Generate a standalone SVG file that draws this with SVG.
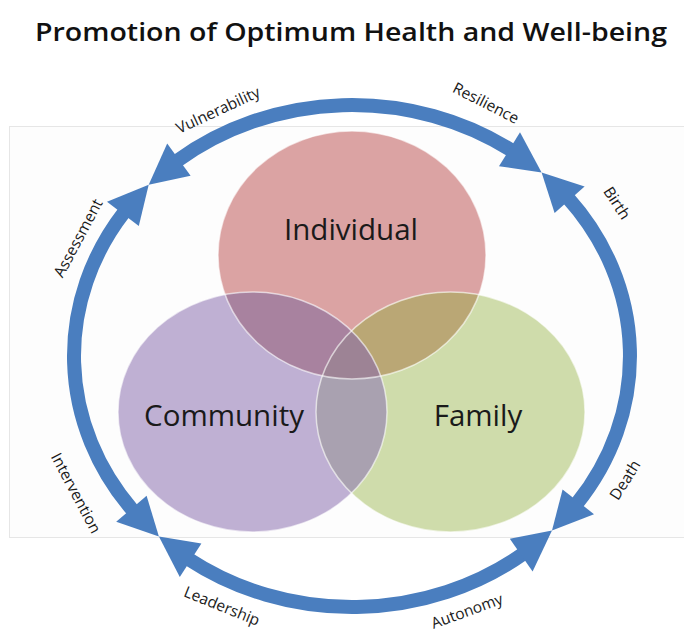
<svg xmlns="http://www.w3.org/2000/svg" xmlns:xlink="http://www.w3.org/1999/xlink" width="684" height="633" viewBox="0 0 684 633">
<style>
  .title { font-family: "Open Sans", "Liberation Sans", sans-serif; font-size: 26px; font-weight: 600; fill: #111; }
  .node { font-family: "Open Sans", "Liberation Sans", sans-serif; font-size: 29.5px; fill: #1a1a1a; text-anchor: middle; }
  .lbl { font-family: "Open Sans", "Liberation Sans", sans-serif; font-size: 15.5px; fill: #1a1a1a; text-anchor: middle; }
  .shaft { fill: none; stroke: #4a7ebf; stroke-width: 14; }
  .head { fill: #4a7ebf; stroke: none; }
  .edge { fill: none; stroke: #ffffff; stroke-opacity: 0.6; stroke-width: 1.5; }
</style>
<defs>
  <ellipse id="eI" cx="352" cy="255" rx="134" ry="124"/>
  <ellipse id="eC" cx="252.5" cy="412" rx="134.5" ry="120"/>
  <ellipse id="eF" cx="450.5" cy="412" rx="134.5" ry="120"/>
  <clipPath id="cI"><use xlink:href="#eI"/></clipPath>
  <clipPath id="cC"><use xlink:href="#eC"/></clipPath>
</defs>

<rect x="9.5" y="126.5" width="700" height="411" fill="#fdfdfd" stroke="#e6e6e6" stroke-width="1"/>

<text class="title" x="351" y="41" text-anchor="middle" textLength="632" lengthAdjust="spacingAndGlyphs">Promotion of Optimum Health and Well-being</text>

<g id="individual">
  <use xlink:href="#eI" fill="#dba3a3"/>
</g>
<g id="community">
  <use xlink:href="#eC" fill="#bfb0d3"/>
</g>
<g id="family">
  <use xlink:href="#eF" fill="#cfdcab"/>
</g>
<g id="overlaps">
  <g clip-path="url(#cI)"><use xlink:href="#eC" fill="#a8829f"/></g>
  <g clip-path="url(#cI)"><use xlink:href="#eF" fill="#baa775"/></g>
  <g clip-path="url(#cC)"><use xlink:href="#eF" fill="#a9a1b0"/></g>
  <g clip-path="url(#cC)"><g clip-path="url(#cI)"><use xlink:href="#eF" fill="#9d8395"/></g></g>
  <use xlink:href="#eI" class="edge"/>
  <use xlink:href="#eC" class="edge"/>
  <use xlink:href="#eF" class="edge"/>
</g>
<g id="node-labels">
  <text class="node" x="351" y="240">Individual</text>
  <text class="node" x="224" y="426">Community</text>
  <text class="node" x="478" y="426">Family</text>
</g>

<g id="connectors">
  <path class="shaft" d="M177.1,160.9 A278,251 0 0 1 511.5,150.4"/>
  <path class="shaft" d="M568.0,198.0 A278,251 0 0 1 576.9,503.5"/>
  <path class="shaft" d="M523.2,553.8 A278,251 0 0 1 188.6,559.1"/>
  <path class="shaft" d="M132.9,510.5 A278,251 0 0 1 124.3,212.0"/>
  <polygon class="head" points="148.7,184.8 190.6,175.8 167.2,143.4"/>
  <polygon class="head" points="541.6,172.4 499.0,166.2 520.0,132.2"/>
  <polygon class="head" points="541.6,172.4 554.6,213.0 584.6,186.6"/>
  <polygon class="head" points="552.0,530.4 594.0,514.2 562.6,489.4"/>
  <polygon class="head" points="552.0,530.4 532.6,571.5 509.8,538.7"/>
  <polygon class="head" points="158.9,536.5 201.4,543.5 179.8,577.1"/>
  <polygon class="head" points="158.9,536.5 146.6,495.8 116.2,521.8"/>
  <polygon class="head" points="148.7,184.8 138.8,225.9 107.0,201.7"/>
</g>

<g id="connector-labels">
  <text class="lbl" transform="translate(218,110) rotate(-25)" dy="0.35em">Vulnerability</text>
  <text class="lbl" transform="translate(486,103) rotate(27)" dy="0.35em">Resilience</text>
  <text class="lbl" transform="translate(617,203) rotate(57)" dy="0.35em">Birth</text>
  <text class="lbl" transform="translate(78,238) rotate(-62)" dy="0.35em">Assessment</text>
  <text class="lbl" transform="translate(76,493) rotate(62)" dy="0.35em">Intervention</text>
  <text class="lbl" transform="translate(625,480) rotate(-58)" dy="0.35em">Death</text>
  <text class="lbl" transform="translate(222,606) rotate(22)" dy="0.35em">Leadership</text>
  <text class="lbl" transform="translate(467,611) rotate(-20)" dy="0.35em">Autonomy</text>
</g>
</svg>
